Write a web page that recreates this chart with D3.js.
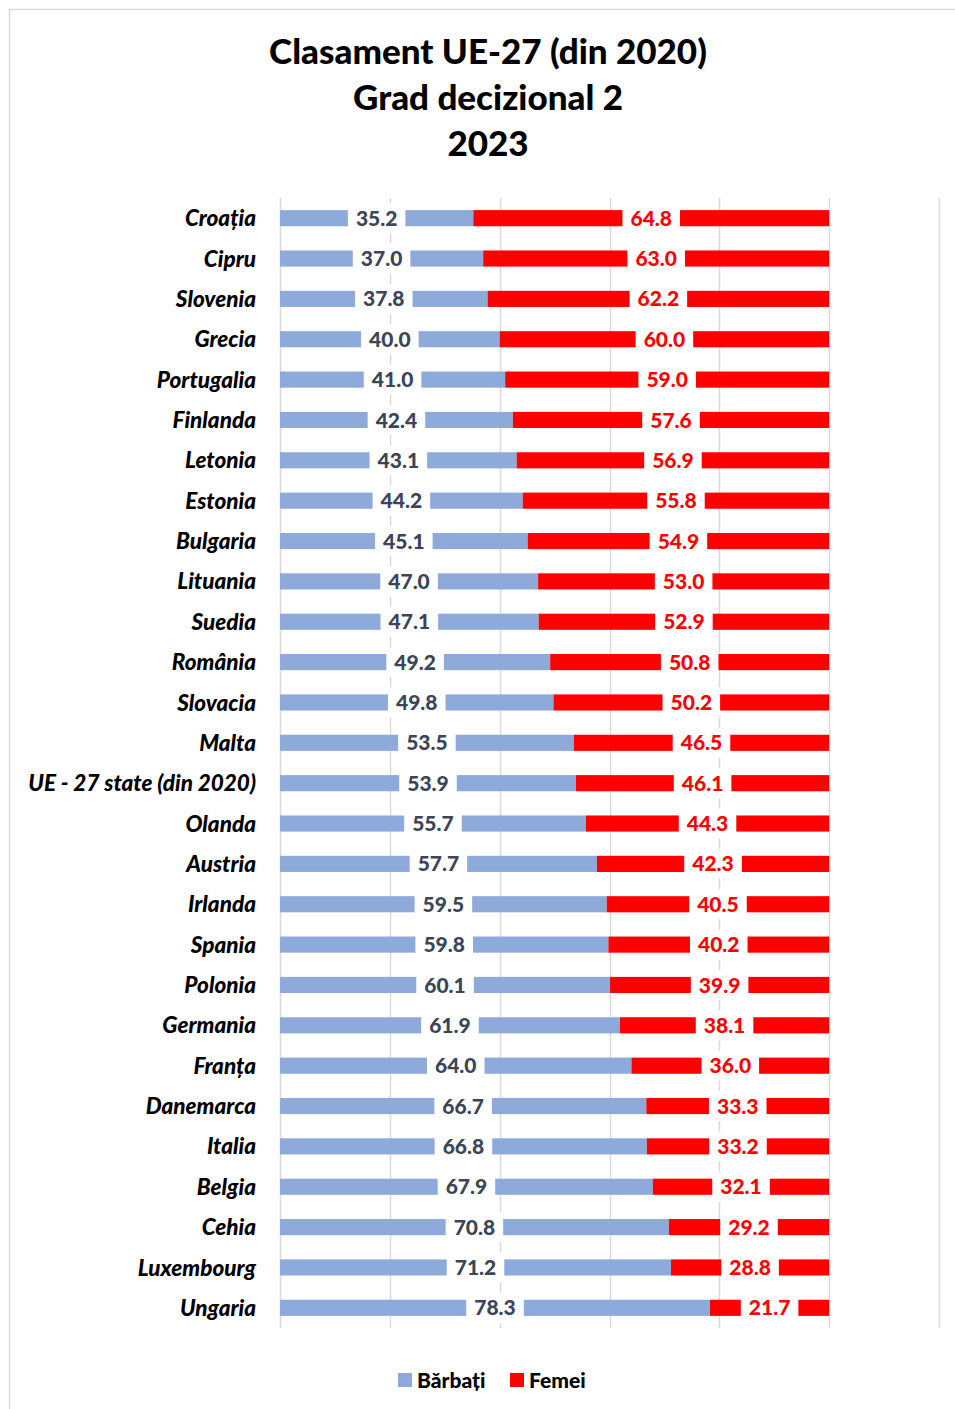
<!DOCTYPE html>
<html><head><meta charset="utf-8">
<script src="https://cdn.jsdelivr.net/npm/d3@7"></script>
<style>body{margin:0;background:#fff}svg{display:block}</style>
</head><body>
<script>
const categories = ["Croația","Cipru","Slovenia","Grecia","Portugalia","Finlanda","Letonia","Estonia","Bulgaria","Lituania","Suedia","România","Slovacia","Malta","UE - 27 state (din 2020)","Olanda","Austria","Irlanda","Spania","Polonia","Germania","Franța","Danemarca","Italia","Belgia","Cehia","Luxembourg","Ungaria"];
const barbati = [35.2,37.0,37.8,40.0,41.0,42.4,43.1,44.2,45.1,47.0,47.1,49.2,49.8,53.5,53.9,55.7,57.7,59.5,59.8,60.1,61.9,64.0,66.7,66.8,67.9,70.8,71.2,78.3];
const femei = [64.8,63.0,62.2,60.0,59.0,57.6,56.9,55.8,54.9,53.0,52.9,50.8,50.2,46.5,46.1,44.3,42.3,40.5,40.2,39.9,38.1,36.0,33.3,33.2,32.1,29.2,28.8,21.7];
const seriesNames = ["Bărbați","Femei"];
const titleLines = ["Clasament UE-27 (din 2020)","Grad decizional 2","2023"];
const axisTicks = [0,20,40,60,80,100,120];

const W=955,H=1409;
const FONT="Lato, 'Open Sans', sans-serif";
const colors = {"Bărbați":"#8eaadb","Femei":"#ff0000"};
const labelColors = {"Bărbați":"#3b4557","Femei":"#ff0000"};

const svg=d3.select("body").append("svg").attr("width",W).attr("height",H);
svg.append("rect").attr("x",9.5).attr("y",9.5).attr("width",W+10).attr("height",H+10)
  .attr("fill","#fff").attr("stroke","#d9d9d9").attr("stroke-width",1.5);

svg.selectAll("text.title").data(titleLines).join("text").attr("class","title")
  .attr("x",488).attr("y",(d,i)=>64+i*46).attr("text-anchor","middle")
  .attr("font-family",FONT).attr("font-weight","900").attr("font-size",35).attr("fill","#000").text(d=>d);

const x=d3.scaleLinear().domain([0,120]).range([280,939]);
const y=d3.scaleBand().domain(categories).range([198,1328]).paddingInner(0.6).paddingOuter(0.3);

// gridlines
svg.append("g").selectAll("line").data(axisTicks).join("line")
  .attr("x1",d=>Math.round(x(d))+0.5).attr("x2",d=>Math.round(x(d))+0.5)
  .attr("y1",198).attr("y2",1328).attr("stroke","#d9d9d9").attr("stroke-width",1.5);

const rows = categories.map((c,i)=>({c, segs:[
  {s:"Bărbați",x0:0,x1:barbati[i],v:barbati[i]},
  {s:"Femei",x0:barbati[i],x1:barbati[i]+femei[i],v:femei[i]}]}));

const g=svg.append("g");
rows.forEach(r=>{
  r.segs.forEach(s=>{
    g.append("rect").attr("x",x(s.x0)).attr("width",x(s.x1)-x(s.x0))
      .attr("y",y(r.c)).attr("height",y.bandwidth()).attr("fill",colors[s.s]);
  });
});
// labels
rows.forEach(r=>{
  r.segs.forEach(s=>{
    const cx=(x(s.x0)+x(s.x1))/2, cy=y(r.c)+y.bandwidth()/2;
    const t=g.append("text").attr("x",cx).attr("y",cy).attr("dy","0.36em").attr("text-anchor","middle")
      .attr("font-family",FONT).attr("font-weight","900").attr("font-size",21)
      .attr("fill",labelColors[s.s]).text(s.v.toFixed(1));
    const bb=t.node().getBBox();
    g.insert("rect",()=>t.node()).attr("x",bb.x-8).attr("width",bb.width+16)
      .attr("y",cy-15).attr("height",30).attr("fill","#fff");
  });
});

// category labels
svg.append("g").selectAll("text").data(categories).join("text")
  .attr("x",256).attr("y",d=>y(d)+y.bandwidth()/2).attr("dy","0.36em").attr("text-anchor","end")
  .attr("font-family",FONT).attr("font-weight","900").attr("font-style","italic").attr("font-size",22.5)
  .attr("fill","#000").text(d=>d);

// legend
const lg=svg.append("g");
const legX=[398,510];
seriesNames.forEach((s,i)=>{
  lg.append("rect").attr("x",legX[i]).attr("y",1373).attr("width",14).attr("height",14).attr("fill",colors[s]);
  lg.append("text").attr("x",legX[i]+19).attr("y",1380).attr("dy","0.36em")
    .attr("font-family",FONT).attr("font-weight","900").attr("font-size",21).attr("fill","#000").text(s);
});
</script>
</body></html>
